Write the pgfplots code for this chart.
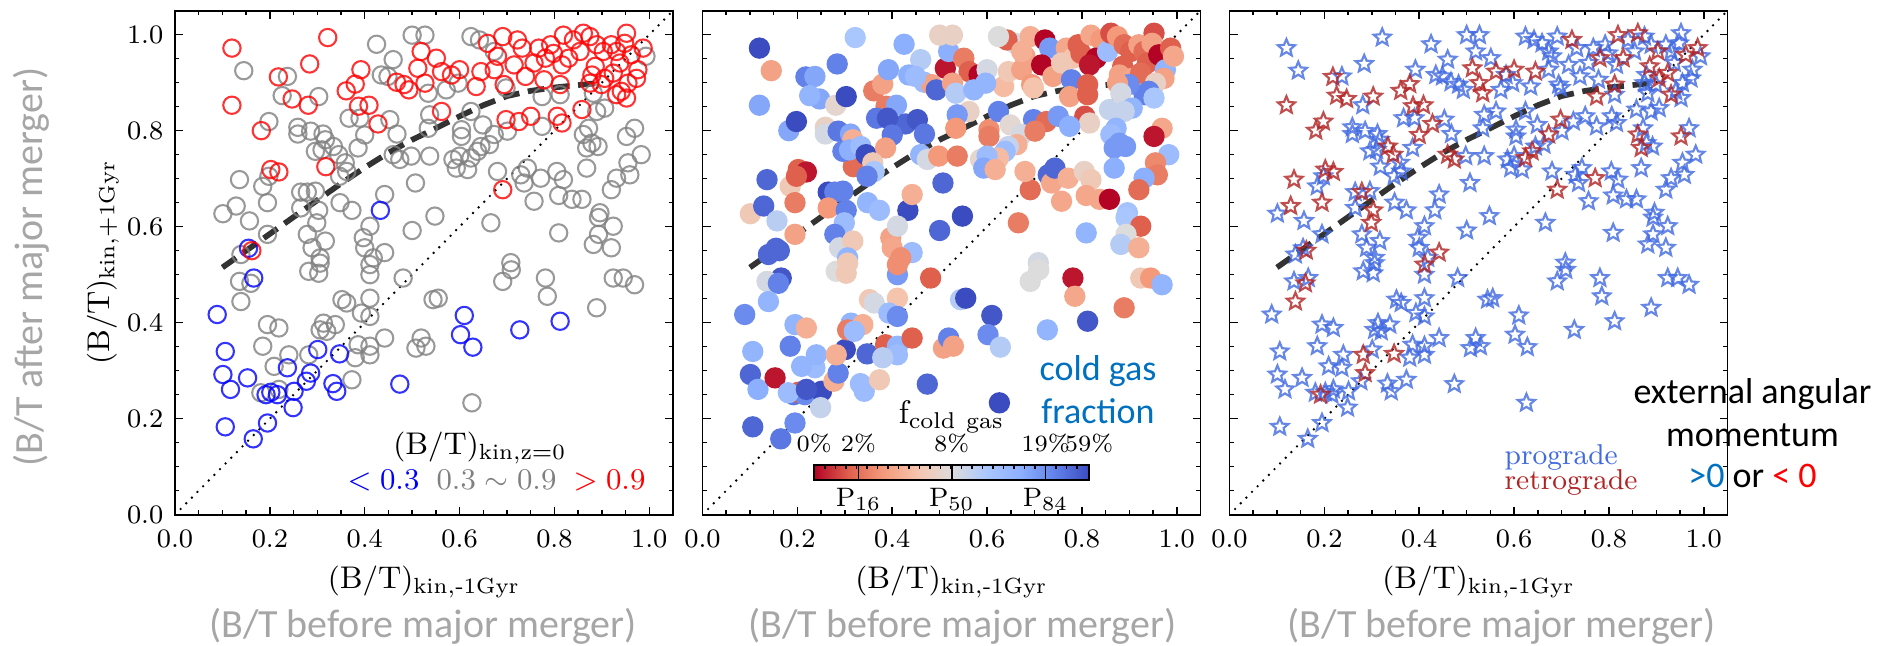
\documentclass[border=0pt]{standalone}
\usepackage{amsmath}
\usepackage{fontspec}
\usepackage{pgfplots}
\usepackage{pgfplotstable}
\pgfplotsset{compat=1.18}
\newfontfamily\carlito{Carlito}

\definecolor{cblue}{RGB}{0,0,255}
\definecolor{cgray}{RGB}{128,128,128}
\definecolor{cred}{RGB}{255,0,0}
\definecolor{lblgray}{RGB}{166,166,166}
\definecolor{msblue}{RGB}{0,112,192}
\definecolor{prog}{RGB}{65,105,225}
\definecolor{retro}{RGB}{178,34,34}
\definecolor{cw0}{RGB}{180,4,38}
\definecolor{cw1}{RGB}{222,96,77}
\definecolor{cw2}{RGB}{244,154,123}
\definecolor{cw3}{RGB}{245,196,173}
\definecolor{cw4}{RGB}{221,220,220}
\definecolor{cw5}{RGB}{170,199,253}
\definecolor{cw6}{RGB}{141,176,254}
\definecolor{cw7}{RGB}{98,130,234}
\definecolor{cw8}{RGB}{59,76,192}

\pgfdeclarehorizontalshading{cwbar}{100bp}{color(0bp)=(cw0); color(25bp)=(cw0);
  color(31.25bp)=(cw1); color(37.5bp)=(cw2); color(43.75bp)=(cw3); color(50bp)=(cw4);
  color(56.25bp)=(cw5); color(62.5bp)=(cw6); color(68.75bp)=(cw7); color(75bp)=(cw8);
  color(100bp)=(cw8)}

% open five-pointed star
\pgfdeclareplotmark{ostar}{%
  \pgfpathmoveto{\pgfpointpolar{90}{\pgfplotmarksize}}%
  \pgfpathlineto{\pgfpointpolar{126}{0.45\pgfplotmarksize}}%
  \pgfpathlineto{\pgfpointpolar{162}{\pgfplotmarksize}}%
  \pgfpathlineto{\pgfpointpolar{198}{0.45\pgfplotmarksize}}%
  \pgfpathlineto{\pgfpointpolar{234}{\pgfplotmarksize}}%
  \pgfpathlineto{\pgfpointpolar{270}{0.45\pgfplotmarksize}}%
  \pgfpathlineto{\pgfpointpolar{306}{\pgfplotmarksize}}%
  \pgfpathlineto{\pgfpointpolar{342}{0.45\pgfplotmarksize}}%
  \pgfpathlineto{\pgfpointpolar{18}{\pgfplotmarksize}}%
  \pgfpathlineto{\pgfpointpolar{54}{0.45\pgfplotmarksize}}%
  \pgfpathclose\pgfusepathqstroke}

% x, y, class of (B/T)_z=0 (0 <0.3, 1 mid, 2 >0.9), cold gas colour value, retrograde flag
\pgfplotstableread{
x y c f r
0.120 0.972 2 0.95 0
0.322 0.994 2 0.60 0
0.120 0.853 2 0.72 1
0.284 0.939 2 0.80 0
0.218 0.912 2 0.80 1
0.247 0.866 2 0.72 1
0.281 0.853 2 0.47 0
0.182 0.800 2 0.72 1
0.361 0.883 2 0.25 1
0.380 0.897 2 0.32 1
0.392 0.927 2 0.72 0
0.387 0.851 2 0.25 1
0.409 0.853 2 0.72 1
0.428 0.814 2 0.85 1
0.467 0.901 2 0.65 0
0.483 0.896 2 0.32 0
0.493 0.885 2 0.85 0
0.512 0.930 2 0.12 1
0.519 0.965 2 0.70 0
0.202 0.719 2 0.20 1
0.219 0.714 2 0.12 1
0.318 0.725 2 0.22 0
0.162 0.550 2 0.85 1
0.433 0.634 0 0.92 0
0.155 0.555 0 0.85 0
0.145 0.925 1 0.32 0
0.500 0.999 1 0.45 0
0.425 0.980 1 0.70 0
0.460 0.948 1 0.58 0
0.435 0.916 1 0.70 0
0.449 0.913 1 0.65 0
0.237 0.913 1 0.72 0
0.226 0.873 1 0.68 1
0.303 0.871 1 0.90 1
0.198 0.819 1 0.90 1
0.259 0.807 1 0.45 0
0.259 0.793 1 0.52 0
0.286 0.799 1 0.82 0
0.312 0.793 1 0.72 0
0.317 0.781 1 0.35 0
0.296 0.757 1 0.80 0
0.310 0.760 1 0.70 0
0.334 0.767 1 0.65 1
0.345 0.750 1 0.90 1
0.367 0.826 1 0.82 0
0.390 0.826 1 0.88 0
0.400 0.791 1 0.82 1
0.386 0.764 1 0.32 0
0.453 0.823 1 0.88 0
0.468 0.793 1 0.82 0
0.460 0.750 1 0.68 1
0.474 0.740 1 0.52 1
0.498 0.747 1 0.30 0
0.359 0.733 1 0.42 0
0.362 0.715 1 0.60 0
0.347 0.705 1 0.80 0
0.136 0.698 1 0.85 1
0.185 0.684 1 0.42 0
0.198 0.705 1 0.20 0
0.265 0.672 1 0.90 0
0.279 0.672 1 0.80 1
0.296 0.674 1 0.80 0
0.101 0.627 1 0.42 0
0.129 0.643 1 0.85 1
0.157 0.612 1 0.57 0
0.195 0.650 1 0.25 1
0.348 0.650 1 0.68 0
0.373 0.634 1 0.65 0
0.265 0.639 1 0.30 0
0.303 0.634 1 0.80 1
0.442 0.667 1 0.35 0
0.507 0.691 1 0.85 0
0.299 0.608 1 0.65 1
0.279 0.584 1 0.80 0
0.289 0.556 1 0.52 0
0.317 0.570 1 0.42 0
0.306 0.535 1 0.68 0
0.397 0.577 1 0.32 0
0.411 0.601 1 0.52 0
0.400 0.556 1 0.33 0
0.442 0.546 1 0.65 1
0.418 0.535 1 0.28 0
0.500 0.592 1 0.85 0
0.195 0.584 1 0.32 0
0.139 0.542 1 0.85 0
0.551 0.951 2 0.25 0
0.562 0.923 2 0.20 1
0.583 0.916 2 0.10 0
0.600 0.927 2 0.52 1
0.527 0.899 2 0.32 1
0.635 0.892 2 0.38 0
0.645 0.923 2 0.42 1
0.659 0.982 2 0.52 0
0.691 0.996 2 0.35 0
0.680 0.955 2 0.32 0
0.673 0.927 2 0.32 0
0.694 0.896 2 0.30 0
0.722 0.989 2 0.10 1
0.732 0.972 2 0.75 0
0.715 0.937 2 0.10 0
0.739 0.913 2 0.32 0
0.767 0.972 2 0.33 0
0.781 0.951 2 0.40 1
0.792 0.979 2 0.20 0
0.757 0.941 2 0.42 0
0.798 0.961 2 0.20 0
0.819 0.999 2 0.33 1
0.840 0.989 2 0.30 0
0.830 0.951 2 0.10 1
0.854 0.965 2 0.65 0
0.816 0.937 2 0.12 0
0.778 0.906 2 0.80 0
0.812 0.896 2 0.20 1
0.861 1.003 2 0.18 1
0.875 0.996 2 0.30 0
0.889 0.979 2 0.22 0
0.886 0.934 2 0.20 1
0.879 0.916 2 0.32 0
0.903 0.965 2 0.20 1
0.920 0.979 2 0.32 0
0.931 0.965 2 0.22 0
0.952 1.003 2 0.18 0
0.948 0.982 2 0.32 0
0.938 0.941 2 0.20 0
0.962 0.958 2 0.10 1
0.987 0.972 2 0.20 1
0.976 0.927 2 0.68 0
0.973 0.909 2 0.32 0
0.906 0.909 2 0.33 1
0.924 0.920 2 0.22 1
0.955 0.899 2 0.45 0
0.941 0.882 2 0.80 0
0.931 0.875 2 0.80 1
0.952 0.868 2 0.60 0
0.899 0.896 2 0.78 0
0.875 0.899 2 0.32 0
0.562 0.840 2 0.45 0
0.698 0.823 2 0.80 1
0.725 0.819 2 0.22 0
0.750 0.830 2 0.75 0
0.806 0.830 2 0.18 0
0.816 0.816 2 0.45 0
0.858 0.844 2 0.55 0
0.691 0.677 2 0.22 1
0.527 0.999 1 0.45 0
0.642 0.989 1 0.20 0
0.624 0.996 1 0.50 0
0.673 0.965 1 0.35 0
0.534 0.878 1 0.58 1
0.572 0.885 1 0.68 0
0.597 0.899 1 0.68 0
0.698 0.889 1 0.40 0
0.774 0.871 1 0.32 1
0.812 0.875 1 0.20 0
0.882 0.878 1 0.52 0
0.906 0.847 1 0.68 0
0.889 0.840 1 0.55 0
0.537 0.833 1 0.75 0
0.534 0.805 1 0.30 0
0.604 0.802 1 0.28 0
0.624 0.840 1 0.80 0
0.649 0.812 1 0.48 0
0.604 0.788 1 0.25 0
0.673 0.792 1 0.52 1
0.663 0.771 1 0.35 0
0.645 0.767 1 0.55 0
0.638 0.757 1 0.65 1
0.624 0.743 1 0.38 1
0.537 0.747 1 0.25 0
0.586 0.740 1 0.47 0
0.600 0.747 1 0.65 0
0.593 0.722 1 0.72 0
0.617 0.719 1 0.35 0
0.701 0.799 1 0.25 0
0.774 0.809 1 0.70 0
0.872 0.805 1 0.68 0
0.861 0.792 1 0.65 1
0.879 0.774 1 0.75 0
0.892 0.767 1 0.75 0
0.868 0.764 1 0.75 1
0.868 0.722 1 0.70 0
0.969 0.805 1 0.33 0
0.952 0.788 1 0.12 1
0.983 0.750 1 0.65 0
0.955 0.733 1 0.27 0
0.959 0.708 1 0.25 0
0.931 0.701 1 0.70 0
0.920 0.677 1 0.22 0
0.993 0.955 1 0.33 0
0.680 0.715 1 0.35 0
0.729 0.708 1 0.85 0
0.736 0.691 1 0.33 0
0.743 0.722 1 0.85 0
0.771 0.701 1 0.35 1
0.805 0.715 1 0.45 0
0.819 0.698 1 0.42 0
0.809 0.665 1 0.33 0
0.837 0.657 1 0.33 0
0.858 0.657 1 0.10 0
0.757 0.653 1 0.33 0
0.896 0.629 1 0.62 0
0.893 0.619 1 0.60 0
0.924 0.601 1 0.20 0
0.893 0.584 1 0.50 0
0.882 0.563 1 0.58 0
0.920 0.556 1 0.35 0
0.809 0.587 1 0.68 0
0.666 0.608 1 0.25 0
0.548 0.622 1 0.92 0
0.708 0.525 1 0.52 0
0.166 0.493 0 0.88 0
0.089 0.417 0 0.78 0
0.106 0.340 0 0.68 0
0.101 0.292 0 0.85 0
0.117 0.261 0 0.70 0
0.153 0.285 0 0.12 0
0.106 0.183 0 0.85 0
0.165 0.158 0 0.82 0
0.195 0.191 0 0.78 0
0.192 0.250 0 0.82 1
0.202 0.255 0 0.20 0
0.216 0.250 0 0.78 0
0.251 0.257 0 0.90 0
0.249 0.223 0 0.55 0
0.237 0.306 0 0.65 0
0.277 0.278 0 0.35 0
0.286 0.295 0 0.80 1
0.301 0.344 0 0.90 0
0.347 0.335 0 0.85 1
0.333 0.273 0 0.65 0
0.341 0.257 0 0.65 0
0.474 0.272 0 0.85 0
0.136 0.486 1 0.52 0
0.160 0.482 1 0.80 1
0.139 0.444 1 0.68 1
0.282 0.507 1 0.50 0
0.303 0.503 1 0.42 0
0.411 0.500 1 0.75 0
0.411 0.521 1 0.28 1
0.306 0.524 1 0.42 0
0.481 0.493 1 0.20 0
0.352 0.448 1 0.42 0
0.362 0.441 1 0.52 0
0.411 0.451 1 0.40 0
0.393 0.420 1 0.65 0
0.411 0.413 1 0.78 0
0.195 0.396 1 0.68 0
0.219 0.389 1 0.35 0
0.185 0.351 1 0.80 0
0.313 0.399 1 0.68 0
0.338 0.396 1 0.35 0
0.306 0.385 1 0.25 0
0.320 0.382 1 0.65 0
0.240 0.333 1 0.68 0
0.209 0.309 1 0.68 0
0.282 0.333 1 0.35 1
0.386 0.354 1 0.20 0
0.411 0.351 1 0.68 0
0.411 0.333 1 0.65 0
0.380 0.327 1 0.57 0
0.442 0.368 1 0.20 0
0.373 0.281 1 0.42 0
0.181 0.254 1 0.65 0
0.219 0.261 1 0.88 0
0.508 0.347 1 0.32 0
0.519 0.368 1 0.80 0
0.529 0.351 1 0.32 0
0.610 0.415 0 0.88 0
0.602 0.375 0 0.78 0
0.628 0.349 0 0.58 0
0.727 0.385 0 0.68 0
0.812 0.403 0 0.88 0
0.709 0.510 1 0.50 0
0.691 0.486 1 0.50 0
0.781 0.493 1 0.12 0
0.785 0.455 1 0.33 0
0.544 0.448 1 0.58 0
0.555 0.451 1 0.90 0
0.924 0.493 1 0.42 0
0.945 0.493 1 0.30 0
0.969 0.479 1 0.68 0
0.889 0.431 1 0.25 0
0.626 0.233 1 0.90 0
}\pts

% running median
\pgfplotstableread{
x y
0.10 0.515
0.15 0.550
0.20 0.585
0.25 0.620
0.30 0.655
0.35 0.690
0.40 0.723
0.45 0.754
0.50 0.781
0.55 0.805
0.60 0.830
0.65 0.853
0.70 0.872
0.75 0.883
0.80 0.890
0.85 0.895
0.90 0.900
}\med

\pgfplotsset{
  panel/.style={anchor=south west, scale only axis, width=149.4pt, height=151.2pt,
    xmin=0, xmax=1.05, ymin=0, ymax=1.05,
    xtick={0,0.2,0.4,0.6,0.8,1.0}, ytick={0,0.2,0.4,0.6,0.8,1.0},
    minor tick num=3, tick align=inside, tick pos=both,
    major tick length=2.4pt, minor tick length=1.3pt,
    axis line style={line width=0.5pt}, every tick/.style={black, line width=0.45pt},
    tick label style={font=\fontsize{8.4}{10}\selectfont},
    xticklabel style={yshift=-1.2pt, /pgf/number format/.cd, fixed, fixed zerofill, precision=1},
    yticklabel style={/pgf/number format/.cd, fixed, fixed zerofill, precision=1},
    colormap={cwr}{rgb255=(180,4,38) rgb255=(222,96,77) rgb255=(244,154,123)
      rgb255=(245,196,173) rgb255=(221,220,220) rgb255=(170,199,253)
      rgb255=(141,176,254) rgb255=(98,130,234) rgb255=(59,76,192)},
    point meta min=0.1, point meta max=0.9},
  medline/.style={black, opacity=0.8, line width=1.7pt, dash pattern=on 5pt off 2.6pt},
  diag/.style={black, line width=0.8pt, line cap=round, dash pattern=on 0pt off 2.4pt},
  ring/.style={only marks, mark=o, mark size=2.6pt,
    mark options={line width=0.62pt, draw opacity=0.8}},
  star/.style={only marks, mark=ostar, mark size=2.7pt,
    mark options={line width=0.65pt, draw opacity=0.8}},
}

\begin{document}
\begin{tikzpicture}
\path[use as bounding box] (0,0) rectangle (568.2pt,193.5pt);

\begin{axis}[panel, at={(52.5pt,39.1pt)}]
\addplot[ring, color=cgray] table[x=x, y=y, restrict expr to domain={\thisrow{c}}{1:1}] {\pts};
\addplot[ring, color=cblue] table[x=x, y=y, restrict expr to domain={\thisrow{c}}{0:0}] {\pts};
\addplot[ring, color=cred] table[x=x, y=y, restrict expr to domain={\thisrow{c}}{2:2}] {\pts};
\addplot[medline] table {\med};
\addplot[diag] coordinates {(0,0) (1.05,1.05)};
\end{axis}

\begin{axis}[panel, at={(210.75pt,39.1pt)}, yticklabels={}]
\addplot[scatter, only marks, mark=*, mark size=3pt, point meta=explicit,
  scatter/use mapped color={draw=mapped color, fill=mapped color}]
  table[x=x, y=y, meta=f] {\pts};
\addplot[medline] table {\med};
\addplot[diag] coordinates {(0,0) (1.05,1.05)};
\end{axis}

\begin{axis}[panel, at={(368.85pt,39.1pt)}, yticklabels={}]
\addplot[star, color=prog] table[x=x, y=y, restrict expr to domain={\thisrow{r}}{0:0}] {\pts};
\addplot[star, color=retro] table[x=x, y=y, restrict expr to domain={\thisrow{r}}{1:1}] {\pts};
\addplot[medline] table {\med};
\addplot[diag] coordinates {(0,0) (1.05,1.05)};
\end{axis}

% axis labels
\foreach \cx in {127.2, 285.45, 443.55}
  \node[anchor=base, font=\fontsize{9.4}{11}\selectfont] at (\cx pt,17.1pt)
    {$(\mathrm{B/T})_{\mathrm{kin,}\text{-}\mathrm{1Gyr}}$};
\foreach \cx in {126.9, 288.75, 450.5}
  \node[anchor=base, text=lblgray, font=\carlito\fontsize{12}{14}\selectfont] at (\cx pt,2.3pt)
    {(B/T before major merger)};
\node[anchor=base, rotate=90, font=\fontsize{9.4}{11}\selectfont] at (32.8pt,114.75pt)
  {$(\mathrm{B/T})_{\mathrm{kin,+1Gyr}}$};
\node[anchor=base, rotate=90, text=lblgray, font=\carlito\fontsize{12}{14}\selectfont]
  at (12.7pt,113.4pt) {(B/T after major merger)};

% panel 1 legend
\node[anchor=base, inner sep=0pt, font=\fontsize{9.4}{11}\selectfont] at (144pt,57.1pt)
  {$(\mathrm{B/T})_{\mathrm{kin,z=0}}$};
\node[anchor=base, inner sep=0pt, text=cblue, font=\fontsize{9}{11}\selectfont] at (115.05pt,46.65pt) {$<0.3$};
\node[anchor=base, inner sep=0pt, text=cgray, font=\fontsize{9}{11}\selectfont] at (148.95pt,46.65pt) {$0.3\sim0.9$};
\node[anchor=base, inner sep=0pt, text=cred, font=\fontsize{9}{11}\selectfont] at (182.85pt,46.65pt) {$>0.9$};

% panel 2 colour bar
\shade[shading=cwbar] (244.26pt,49.5pt) rectangle (326.7pt,54pt);
\foreach \i in {0,...,24}
  \draw[line width=0.35pt] ({247.5pt+\i*3.15pt},54pt) -- ++(0,-1.3pt);
\foreach \px in {257.55, 285.54, 313.65}
  \draw[line width=0.5pt] (\px pt,49.5pt) -- (\px pt,54pt);
\draw[line width=0.5pt] (244.26pt,49.5pt) rectangle (326.7pt,54pt);
\foreach \px/\lab in {244.26/0\%, 257.55/2\%, 285.54/8\%, 313.65/19\%, 326.7/59\%}
  \node[anchor=base, font=\fontsize{7}{9}\selectfont, inner sep=0pt] at (\px pt,58.2pt) {\lab};
\foreach \px/\lab in {257.55/16, 285.54/50, 313.65/84}
  \node[anchor=base, font=\fontsize{8}{10}\selectfont] at (\px pt,41.5pt) {$\mathrm{P}_{\lab}$};
\node[anchor=base, font=\fontsize{9.8}{11}\selectfont] at (285.45pt,66.4pt)
  {$\mathrm{f}_{\mathrm{cold\ gas}}$};
\node[anchor=base, text=msblue, font=\carlito\fontsize{10.8}{13}\selectfont] at (329.4pt,79.35pt) {cold gas};
\node[anchor=base, text=msblue, font=\carlito\fontsize{10.8}{13}\selectfont] at (329.4pt,66.6pt) {fraction};

% panel 3 notes
\node[anchor=base west, inner sep=0pt, text=prog, font=\fontsize{8.6}{10}\selectfont] at (451.2pt,54.3pt) {prograde};
\node[anchor=base west, inner sep=0pt, text=retro, font=\fontsize{8.6}{10}\selectfont] at (451.2pt,46.65pt) {retrograde};
\node[anchor=base, font=\carlito\fontsize{10.8}{13}\selectfont] at (525.75pt,72.6pt) {external angular};
\node[anchor=base, font=\carlito\fontsize{10.8}{13}\selectfont] at (525.75pt,59.7pt) {momentum};
\node[anchor=base, font=\carlito\fontsize{10.8}{13}\selectfont] at (525.75pt,47.25pt)
  {\textcolor{msblue}{>0} or \textcolor{cred}{< 0}};
\end{tikzpicture}
\end{document}
